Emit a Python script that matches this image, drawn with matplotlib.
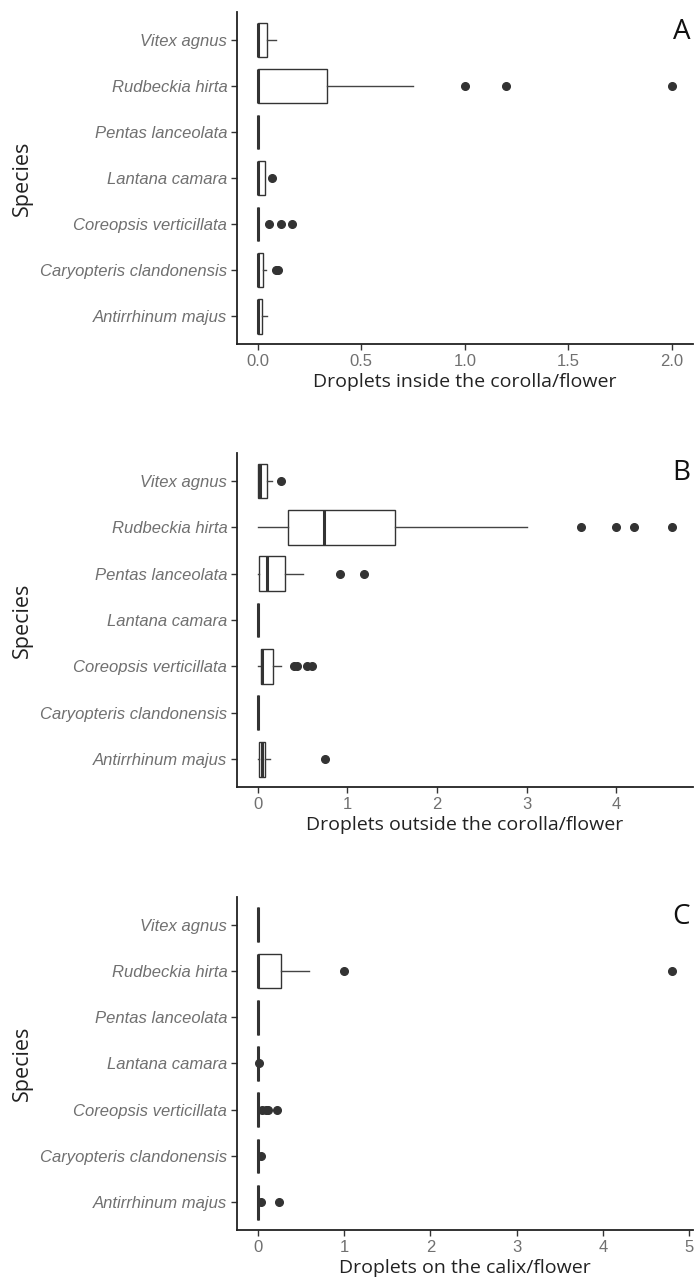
import matplotlib
matplotlib.use("Agg")
import matplotlib.pyplot as plt

# Species, bottom to top as on the axis
species = ["Antirrhinum majus", "Caryopteris clandonensis", "Coreopsis verticillata",
           "Lantana camara", "Pentas lanceolata", "Rudbeckia hirta", "Vitex agnus"]

# Panel A: droplets inside the corolla/flower
inside_q1 = [0, 0, 0, 0, 0, 0, 0]
inside_med = [0, 0, 0, 0, 0, 0, 0]
inside_q3 = [0.022, 0.027, 0, 0.033, 0, 0.333, 0.043]
inside_wlo = [0, 0, 0, 0, 0, 0, 0]
inside_whi = [0.046, 0.04, 0, 0.033, 0, 0.75, 0.087]
inside_fliers = [[], [0.09, 0.1], [0.056, 0.111, 0.167], [0.067], [], [1.0, 1.2, 2.0], []]

# Panel B: droplets outside the corolla/flower
outside_q1 = [0.01, 0, 0.04, 0, 0.02, 0.333, 0]
outside_med = [0.05, 0, 0.05, 0, 0.1, 0.74, 0.03]
outside_q3 = [0.08, 0, 0.17, 0, 0.3, 1.53, 0.1]
outside_wlo = [0, 0, 0, 0, 0, 0, 0]
outside_whi = [0.14, 0, 0.26, 0, 0.5, 3.0, 0.16]
outside_fliers = [[0.75], [], [0.4, 0.44, 0.55, 0.6], [], [0.92, 1.18], [3.6, 4.0, 4.2, 4.62], [0.26]]

# Panel C: droplets on the calix/flower
calix_q1 = [0, 0, 0, 0, 0, 0, 0]
calix_med = [0, 0, 0, 0, 0, 0, 0]
calix_q3 = [0, 0, 0, 0, 0, 0.27, 0]
calix_wlo = [0, 0, 0, 0, 0, 0, 0]
calix_whi = [0, 0, 0, 0, 0, 0.6, 0]
calix_fliers = [[0.04, 0.25], [0.04], [0.05, 0.1, 0.12, 0.22], [0.02], [], [1.0, 4.8], []]

panels = [
    ("A", "Droplets inside the corolla/flower", inside_q1, inside_med, inside_q3,
     inside_wlo, inside_whi, inside_fliers, [0.0, 0.5, 1.0, 1.5, 2.0], ["0.0", "0.5", "1.0", "1.5", "2.0"], (-0.1, 2.1)),
    ("B", "Droplets outside the corolla/flower", outside_q1, outside_med, outside_q3,
     outside_wlo, outside_whi, outside_fliers, [0, 1, 2, 3, 4], ["0", "1", "2", "3", "4"], (-0.231, 4.851)),
    ("C", "Droplets on the calix/flower", calix_q1, calix_med, calix_q3,
     calix_wlo, calix_whi, calix_fliers, [0, 1, 2, 3, 4, 5], ["0", "1", "2", "3", "4", "5"], (-0.24, 5.04)),
]

fig = plt.figure(figsize=(6.97, 12.81), dpi=100)
ax_rects = [[0.340, 0.7315, 0.654, 0.259],
            [0.340, 0.3856, 0.654, 0.2607],
            [0.340, 0.0398, 0.654, 0.260]]

box_col = "#333333"
tick_col = "#707070"

for rect, (letter, xlabel, q1, med, q3, wlo, whi, fl, xt, xtl, xlim) in zip(ax_rects, panels):
    ax = fig.add_axes(rect)
    stats = []
    for i in range(len(species)):
        stats.append(dict(q1=q1[i], med=med[i], q3=q3[i], whislo=wlo[i], whishi=whi[i], fliers=fl[i]))
    ax.bxp(stats, positions=range(1, len(species) + 1), vert=False, widths=0.75,
           showcaps=False, patch_artist=True,
           boxprops=dict(facecolor="white", edgecolor=box_col, linewidth=1.0),
           whiskerprops=dict(color="#444444", linewidth=1.0),
           medianprops=dict(color=box_col, linewidth=2.2, solid_capstyle="butt"),
           flierprops=dict(marker="o", markerfacecolor=box_col, markeredgecolor=box_col, markersize=5.5))
    ax.set_xlim(*xlim)
    ax.set_ylim(0.4, 7.6)
    ax.set_yticks(range(1, len(species) + 1))
    ax.set_yticklabels(species, fontstyle="italic", fontsize=12, color=tick_col, family="Liberation Sans")
    ax.set_xticks(xt)
    ax.set_xticklabels(xtl, fontsize=12, color=tick_col, family="Liberation Sans")
    ax.tick_params(axis="both", length=4, width=1.0, color="#333333", pad=3)
    for s in ["top", "right"]:
        ax.spines[s].set_visible(False)
    for s in ["left", "bottom"]:
        ax.spines[s].set_color("#222222")
        ax.spines[s].set_linewidth(1.3)
    ax.set_xlabel(xlabel, fontsize=14, family="Open Sans", color="#222222", labelpad=3)
    ax.set_ylabel("Species", fontsize=15.5, family="Open Sans", color="#222222", labelpad=5)
    ax.text(0.975, 0.94, letter, transform=ax.transAxes, fontsize=20, family="Open Sans",
            ha="center", va="center", color="#111111")

fig.savefig("out.png", dpi=100)
